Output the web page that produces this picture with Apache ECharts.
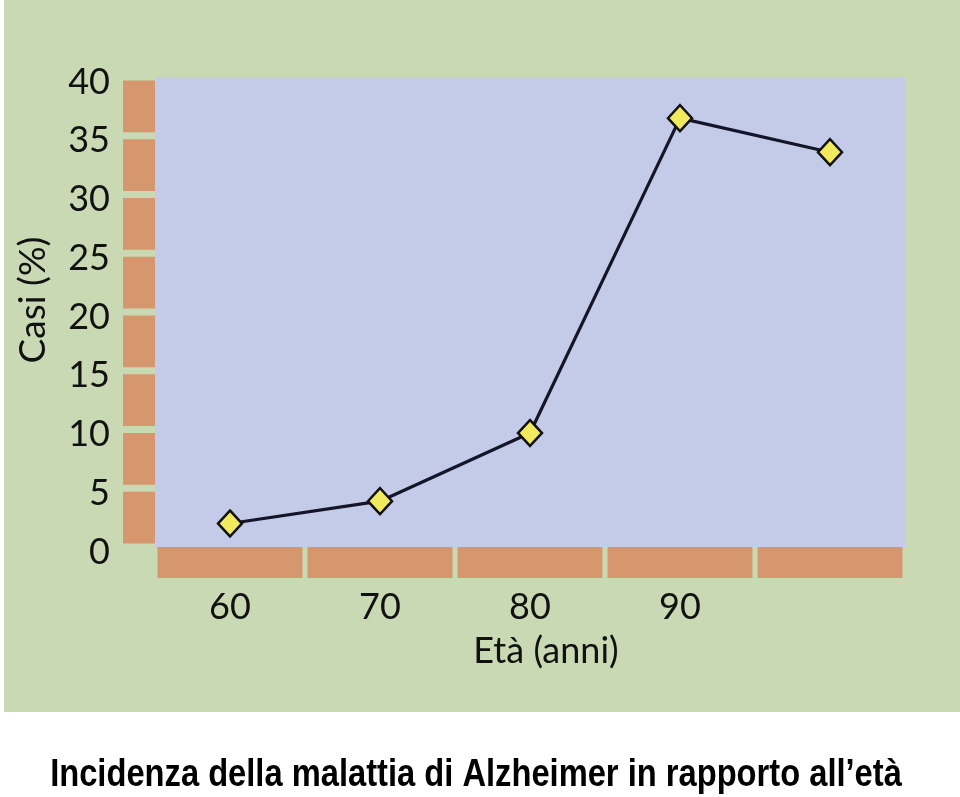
<!DOCTYPE html>
<html>
<head>
<meta charset="utf-8">
<script src="https://cdn.jsdelivr.net/npm/echarts@6/dist/echarts.min.js"></script>
<style>
html,body{margin:0;padding:0;background:#ffffff;}
#chart{width:960px;height:797px;}
</style>
</head>
<body>
<div id="chart"></div>
<script>
// ---- data ----
var categories = ['60', '70', '80', '90', ''];
var casiValues = [2.0, 3.9, 9.7, 36.5, 33.6];
var yTicks = [0, 5, 10, 15, 20, 25, 30, 35];
var yStep = 5;
var titleText = 'Incidenza della malattia di Alzheimer in rapporto all\u2019et\u00e0';
var xAxisName = 'Et\u00e0 (anni)';
var yAxisName = 'Casi (%)';

var GREEN = '#c8d9b4';
var BLUE = '#c4cbe8';
var BROWN = '#d6976f';
var LABEL_FONT = 'Lato, "Open Sans", "DejaVu Sans", sans-serif';

var chart = echarts.init(document.getElementById('chart'));

var option = {
  backgroundColor: '#ffffff',
  animation: false,
  graphic: [
    { type: 'rect', z: -10, silent: true,
      shape: { x: 4, y: 0, width: 956, height: 712 },
      style: { fill: GREEN } },
    { type: 'text', z: 10, x: 476, y: 776, scaleX: 0.86,
      style: { text: titleText, fill: '#000', fontSize: 38, fontWeight: 'bold',
        align: 'center', verticalAlign: 'middle',
        fontFamily: '"Liberation Sans", Arial, sans-serif' } },
    { type: 'text', z: 10, x: 546, y: 651,
      style: { text: xAxisName, fill: '#111', fontSize: 36, align: 'center', verticalAlign: 'middle',
        fontFamily: LABEL_FONT } },
    { type: 'text', z: 10, x: 33, y: 300, rotation: Math.PI / 2,
      style: { text: yAxisName, fill: '#111', fontSize: 37, align: 'center', verticalAlign: 'middle',
        fontFamily: LABEL_FONT } }
  ],
  grid: {
    left: 155, right: 55, top: 77, bottom: 250,
    show: true, backgroundColor: BLUE, borderWidth: 0
  },
  xAxis: {
    type: 'category',
    data: categories,
    boundaryGap: true,
    axisLine: { show: false },
    axisTick: { show: false },
    splitLine: { show: false },
    axisLabel: { color: '#111', fontSize: 36, fontFamily: LABEL_FONT, margin: 42 }
  },
  yAxis: {
    type: 'value',
    min: 0, max: 40, interval: 5,
    axisLine: { show: false },
    axisTick: { show: false },
    splitLine: { show: false },
    axisLabel: { color: '#111', fontSize: 36, fontFamily: LABEL_FONT, margin: 45,
      verticalAlign: 'top', lineHeight: 10 }
  },
  series: [
    {
      type: 'custom',
      clip: false,
      silent: true,
      z: 1,
      data: categories.map(function (c, i) { return [i]; }),
      renderItem: function (params, api) {
        var idx = api.value(0);
        var cs = params.coordSys;
        var center = api.coord([idx, 0]);
        var bw = api.size([1, 0])[0];
        var gap = 2.5;
        return {
          type: 'rect',
          shape: { x: center[0] - bw / 2 + gap, y: cs.y + cs.height, width: bw - 2 * gap, height: 31 },
          style: { fill: BROWN }
        };
      }
    },
    {
      type: 'custom',
      clip: false,
      silent: true,
      z: 1,
      data: yTicks.map(function (v) { return [0, v]; }),
      renderItem: function (params, api) {
        var v = api.value(1);
        var cs = params.coordSys;
        var yLow = api.coord([0, v])[1];
        var yHigh = api.coord([0, v + yStep])[1];
        var gap = 3.5;
        return {
          type: 'rect',
          shape: { x: cs.x - 32, y: yHigh + gap, width: 32, height: (yLow - yHigh) - 2 * gap },
          style: { fill: BROWN }
        };
      }
    },
    {
      type: 'line',
      z: 5,
      data: casiValues,
      symbol: 'diamond',
      symbolSize: [24, 26],
      lineStyle: { color: '#15152a', width: 3.2 },
      itemStyle: { color: '#f2ea5e', borderColor: '#111', borderWidth: 2.5 }
    }
  ]
};

chart.setOption(option);
</script>
</body>
</html>
